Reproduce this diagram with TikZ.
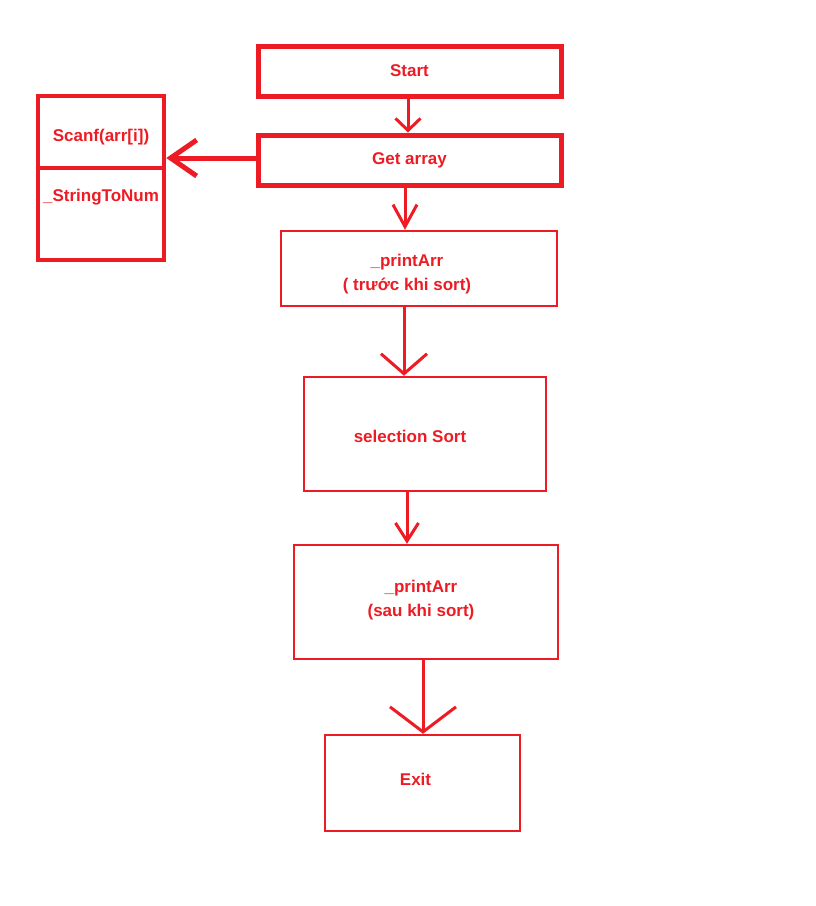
\documentclass[tikz,border=0pt]{standalone}
\usepackage{fontspec}
\setmainfont{Liberation Sans}
\usetikzlibrary{arrows.meta}
\definecolor{flowred}{RGB}{237,28,36}

\begin{document}
\begin{tikzpicture}[x=1pt, y=-1pt,
  box/.style={rectangle, draw=flowred, line width=2.5pt, inner sep=0pt},
  bigbox/.style={box, line width=5pt},
  lbl/.style={text=flowred, font=\bfseries\fontsize{17}{24}\selectfont, align=center},
  link/.style={draw=flowred, line width=3pt}]
  \useasboundingbox (0,0) rectangle (815,906);

  \node[bigbox, lbl, minimum width=303pt, minimum height=50pt] (start) at (409.5,71) {Start};
  \node[bigbox, lbl, minimum width=303pt, minimum height=50pt] (get) at (409.5,160) {Get array};

  \node[box, line width=4.5pt, minimum width=126pt, minimum height=72pt,
    label={[lbl, yshift=-5pt]center:Scanf(arr[i])}] (scanf) at (101,132) {};
  \node[box, line width=4.5pt, minimum width=126pt, minimum height=92pt,
    label={[lbl, yshift=17pt]center:\_StringToNum}] (conv) at (101,214) {};

  \node[box, minimum width=276pt, minimum height=75pt,
    label={[lbl, xshift=-12pt, yshift=-6pt]center:{\_printArr\\( tr^^^^01b0^^^^1edbc khi sort)}}] (before) at (419,268.5) {};
  \node[box, minimum width=242pt, minimum height=114pt,
    label={[lbl, xshift=-15pt, yshift=-2pt]center:selection Sort}] (sort) at (425,434) {};
  \node[box, minimum width=264pt, minimum height=114pt,
    label={[lbl, xshift=-5pt, yshift=2pt]center:{\_printArr\\(sau khi sort)}}] (after) at (426,602) {};
  \node[box, minimum width=195pt, minimum height=96pt,
    label={[lbl, xshift=-7pt, yshift=4pt]center:Exit}] (exit) at (422.5,783) {};

  \draw[link, -{Straight Barb[length=12pt,width=25pt]}] ([xshift=-1.5pt]start.south) -- ([xshift=-1.5pt]get.north);
  \draw[link, line width=5pt, -{Straight Barb[length=26pt,width=36pt]}] ([yshift=2pt]get.west) -- ([yshift=-26pt]scanf.east);
  \draw[link, -{Straight Barb[length=22pt,width=24pt]}] ([xshift=-4.5pt]get.south) -- ([xshift=-14pt]before.north);
  \draw[link, -{Straight Barb[length=20pt,width=46pt]}] ([xshift=-15pt]before.south) -- ([xshift=-21pt]sort.north);
  \draw[link, -{Straight Barb[length=18pt,width=23pt]}] ([xshift=-18pt]sort.south) -- ([xshift=-19pt]after.north);
  \draw[link, -{Straight Barb[length=25pt,width=66pt]}] ([xshift=-3pt]after.south) -- ([xshift=0.5pt]exit.north);
\end{tikzpicture}
\end{document}
